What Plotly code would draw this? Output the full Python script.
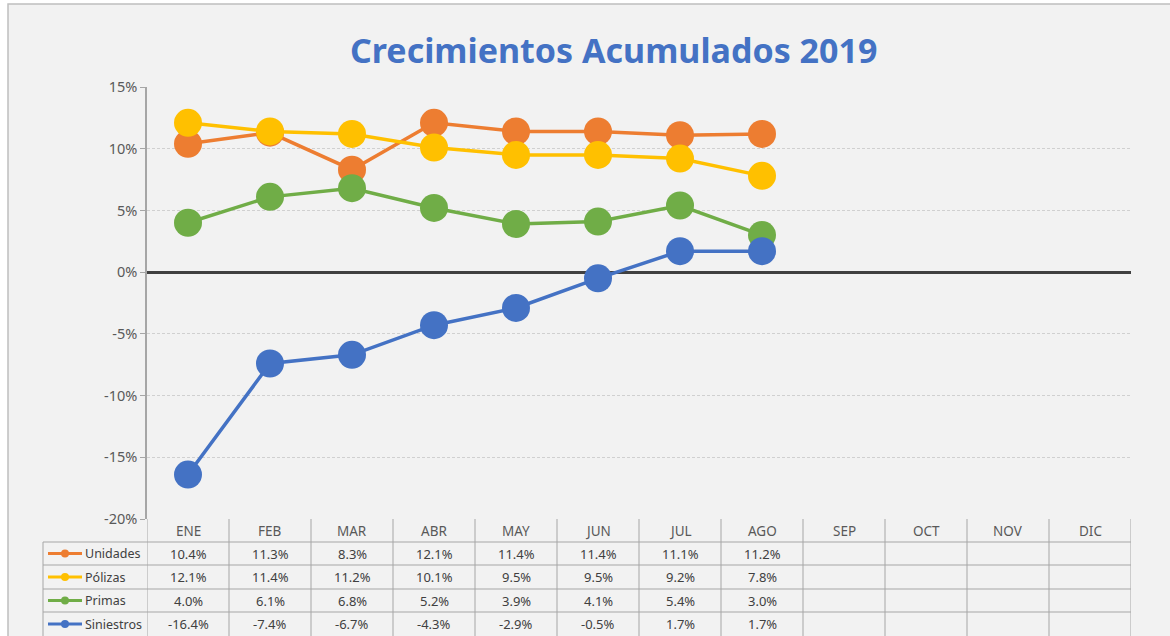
import plotly.graph_objects as go

# ---- data ----
months = ["ENE", "FEB", "MAR", "ABR", "MAY", "JUN", "JUL", "AGO", "SEP", "OCT", "NOV", "DIC"]
unidades = [10.4, 11.3, 8.3, 12.1, 11.4, 11.4, 11.1, 11.2]
polizas = [12.1, 11.4, 11.2, 10.1, 9.5, 9.5, 9.2, 7.8]
primas = [4.0, 6.1, 6.8, 5.2, 3.9, 4.1, 5.4, 3.0]
siniestros = [-16.4, -7.4, -6.7, -4.3, -2.9, -0.5, 1.7, 1.7]
series_names = ["Unidades", "Pólizas", "Primas", "Siniestros"]
series_values = [unidades, polizas, primas, siniestros]
series_colors = ["#ED7D31", "#FFC000", "#70AD47", "#4472C4"]
y_ticks = [-20, -15, -10, -5, 0, 5, 10, 15]
y_ticktext = ["-20%", "-15%", "-10%", "-5%", "0%", "5%", "10%", "15%"]
title_text = "Crecimientos Acumulados 2019"

# ---- layout geometry (pixels) ----
W, H = 1170, 636
PL, PR, PT, PB = 147, 1131, 87, 519
PW, PH = PR - PL, PB - PT
FONT = "Noto Sans"


def px_x(px):
    return (px - PL) / PW


def px_y(py):
    return (PB - py) / PH


fig = go.Figure()

for name, vals, col in zip(series_names, series_values, series_colors):
    fig.add_trace(go.Scatter(
        x=list(range(len(vals))), y=vals, name=name, mode="lines+markers",
        line=dict(color=col, width=3.5),
        marker=dict(color=col, size=28),
        showlegend=False, cliponaxis=False,
    ))

shapes = []
annotations = []

# background with border
shapes.append(dict(type="rect", xref="paper", yref="paper",
                   x0=px_x(8), x1=px_x(W + 10), y0=px_y(H + 10), y1=px_y(4),
                   fillcolor="#F2F2F2", line=dict(color="#BFBFBF", width=1.5),
                   layer="below"))

# table grid
grid_col = "#A6A6A6"
row_edges = [542, 565, 589, 612, 636]
header_top = PB
for i in range(len(months) + 1):
    shapes.append(dict(type="line", xref="x", yref="paper",
                       x0=i - 0.5, x1=i - 0.5, y0=px_y(H + 2), y1=px_y(header_top),
                       line=dict(color=grid_col, width=1)))
for ry in row_edges[:-1]:
    shapes.append(dict(type="line", xref="paper", yref="paper",
                       x0=px_x(43), x1=1, y0=px_y(ry), y1=px_y(ry),
                       line=dict(color=grid_col, width=1)))
shapes.append(dict(type="line", xref="paper", yref="paper",
                   x0=px_x(43), x1=px_x(43), y0=px_y(H + 2), y1=px_y(542),
                   line=dict(color=grid_col, width=1)))

# header
for i, m in enumerate(months):
    annotations.append(dict(x=i, y=px_y(530.5), xref="x", yref="paper",
                            text=m, showarrow=False, xanchor="center", yanchor="middle",
                            font=dict(family=FONT, size=13.5, color="#595959")))

# rows
for r, (name, vals, col) in enumerate(zip(series_names, series_values, series_colors)):
    yc = (row_edges[r] + row_edges[r + 1]) / 2
    shapes.append(dict(type="line", xref="paper", yref="paper",
                       x0=px_x(48), x1=px_x(82), y0=px_y(yc), y1=px_y(yc),
                       line=dict(color=col, width=3)))
    shapes.append(dict(type="circle", xref="paper", yref="paper",
                       x0=px_x(61), x1=px_x(69), y0=px_y(yc + 4), y1=px_y(yc - 4),
                       fillcolor=col, line=dict(color=col, width=0)))
    annotations.append(dict(x=px_x(83), y=px_y(yc), xref="paper", yref="paper",
                            text=name, showarrow=False, xanchor="left", yanchor="middle",
                            font=dict(family=FONT, size=12.5, color="#404040")))
    for i, v in enumerate(vals):
        annotations.append(dict(x=i, y=px_y(yc), xref="x", yref="paper",
                                text=f"{v:.1f}%", showarrow=False,
                                xanchor="center", yanchor="middle",
                                font=dict(family=FONT, size=13, color="#404040")))

# title
annotations.append(dict(x=px_x(613), y=px_y(50), xref="paper", yref="paper",
                        xanchor="center", yanchor="middle",
                        text=f"<b>{title_text}</b>", showarrow=False,
                        font=dict(family=FONT, size=34, color="#4472C4")))

fig.update_layout(
    width=W, height=H,
    margin=dict(l=PL, r=W - PR, t=PT, b=H - PB, pad=0),
    paper_bgcolor="#FFFFFF", plot_bgcolor="rgba(0,0,0,0)",
    shapes=shapes, annotations=annotations,
    xaxis=dict(range=[-0.5, len(months) - 0.5], showgrid=False, zeroline=False,
               showticklabels=False, showline=False, ticks="", fixedrange=True),
    yaxis=dict(range=[-20, 15], tickvals=y_ticks, ticktext=y_ticktext,
               showgrid=True, gridcolor="#D0D0D0", griddash="3px,2px", gridwidth=1,
               zeroline=True, zerolinecolor="#404040", zerolinewidth=2.5,
               showline=True, linecolor="#A6A6A6", linewidth=1.5,
               ticks="outside", ticklen=5, tickcolor="#A6A6A6",
               tickfont=dict(family=FONT, size=14.5, color="#595959"),
               fixedrange=True),
)

fig.write_html("out.html", config={"displayModeBar": False},
               post_script="document.body.style.margin='0';document.body.style.overflow='hidden';")
